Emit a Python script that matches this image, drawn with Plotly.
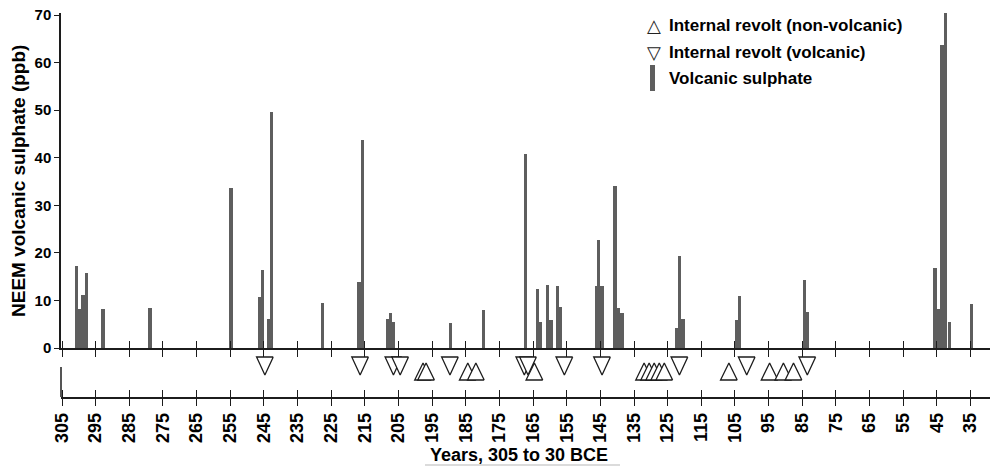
import plotly.graph_objects as go

# ---------------- data ----------------
bar_years = [300.75, 299.75, 298.75, 297.75, 292.8, 278.8, 254.8,
             246.4, 245.4, 243.7, 242.7, 227.6, 216.7, 215.7,
             208.2, 207.4, 206.4, 189.5, 179.8, 167.3,
             163.7, 162.8, 160.7, 159.7, 157.8, 156.8,
             146.2, 145.5, 144.5, 140.7, 139.7, 138.6,
             122.4, 121.4, 120.4, 104.6, 103.6, 84.4, 83.4,
             45.6, 44.6, 43.5, 42.4, 41.2, 34.7]
sulphate_ppb = [17.3, 8.1, 11.1, 15.8, 8.3, 8.5, 33.7,
                10.7, 16.5, 6.0, 49.6, 9.4, 13.8, 43.8,
                6.2, 7.4, 5.5, 5.3, 7.9, 40.7,
                12.5, 5.4, 13.3, 5.9, 13.1, 8.7,
                13.1, 22.6, 13.1, 34.0, 8.5, 7.4,
                4.2, 19.4, 6.1, 5.8, 10.9, 14.3, 7.6,
                16.8, 8.1, 63.6, 70.5, 5.5, 9.3]

revolt_volcanic_years = [244.7, 216.4, 206.5, 204.5, 189.7, 167.6, 166.5,
                         155.7, 144.5, 121.5, 101.5, 83.5]
revolt_nonvolcanic_years = [197.7, 196.8, 184.4, 182.0, 164.6,
                            132.0, 130.5, 129.0, 127.5, 126.0,
                            106.8, 94.7, 90.6, 87.6]

tick_years = list(range(305, 34, -10))
tick_labels = [str(v) for v in tick_years]
y_ticks = list(range(0, 71, 10))

# ---------------- layout geometry / style ----------------
W, H = 997, 468
ML, MR, MT, MB = 61, 7, 13, 71
PW, PH = W - ML - MR, H - MT - MB


def pxp(x):
    return (x - ML) / PW


def pyp(y):
    return (H - MB - y) / PH


FONT = "Liberation Sans, Arial, sans-serif"
BAR_COLOR = "#5e5e5e"
EDGE = "#1c1c1c"
XR = [305.3, 29.2]
Y2_RANGE = [0, 43]
HW = 2.48                      # triangle half width (years)
DOWN_TOP, DOWN_BOT = 40, 22    # y2 units (pixels)
UP_BOT, UP_TOP = 17, 34

fig = go.Figure()

fig.add_trace(go.Bar(x=bar_years, y=sulphate_ppb, width=1.0,
                     marker=dict(color=BAR_COLOR, line=dict(width=0)),
                     xaxis="x2", yaxis="y", showlegend=False,
                     hoverinfo="x+y"))

for yr in sorted(revolt_volcanic_years, reverse=True):
    fig.add_trace(go.Scatter(
        x=[yr - HW, yr + HW, yr, yr - HW],
        y=[DOWN_TOP, DOWN_TOP, DOWN_BOT, DOWN_TOP],
        mode="lines", fill="toself", fillcolor="white",
        line=dict(color=EDGE, width=1.3),
        xaxis="x", yaxis="y2", showlegend=False, hoverinfo="skip"))

for yr in sorted(revolt_nonvolcanic_years, reverse=True):
    fig.add_trace(go.Scatter(
        x=[yr - HW, yr + HW, yr, yr - HW],
        y=[UP_BOT, UP_BOT, UP_TOP, UP_BOT],
        mode="lines", fill="toself", fillcolor="white",
        line=dict(color=EDGE, width=1.3),
        xaxis="x", yaxis="y2", showlegend=False, hoverinfo="skip"))

# dummy traces so overlay axes are drawn
fig.add_trace(go.Scatter(x=[None], y=[None], xaxis="x3", yaxis="y",
                         showlegend=False, hoverinfo="skip"))
fig.add_trace(go.Scatter(x=[None], y=[None], xaxis="x4", yaxis="y2",
                         showlegend=False, hoverinfo="skip"))

y_dom_bottom = (H - MB - 348) / PH
y2_dom_top = (Y2_RANGE[1] - Y2_RANGE[0]) / PH

common_x = dict(range=XR, tickmode="array", tickvals=tick_years,
                showgrid=False, zeroline=False, fixedrange=True,
                ticklen=7, tickwidth=1.3, tickcolor=EDGE)

fig.update_layout(
    width=W, height=H,
    margin=dict(l=ML, r=MR, t=MT, b=MB, autoexpand=False),
    paper_bgcolor="white", plot_bgcolor="white",
    font=dict(family=FONT, color="black"),
    bargap=0,
    xaxis=dict(**common_x, anchor="y2", ticks="outside",
               ticktext=tick_labels, tickangle=-90,
               tickfont=dict(family=FONT, size=18, color="black", weight="bold"),
               showline=True, linecolor=EDGE, linewidth=1.5),
    xaxis4=dict(**common_x, anchor="y2", overlaying="x", ticks="inside",
                showticklabels=False, showline=False),
    xaxis2=dict(**common_x, anchor="y", ticks="outside",
                showticklabels=False, showline=True, linecolor=EDGE,
                linewidth=1.5),
    xaxis3=dict(**common_x, anchor="y", overlaying="x2", ticks="inside",
                showticklabels=False, showline=False),
    yaxis=dict(domain=[y_dom_bottom, 1], range=[0, 70.42],
               tickmode="array", tickvals=y_ticks,
               ticks="outside", ticklen=5, tickwidth=1.3, tickcolor=EDGE,
               tickfont=dict(family=FONT, size=15, color="black", weight="bold"),
               showline=True, linecolor=EDGE, linewidth=1.5,
               showgrid=False, zeroline=False, fixedrange=True),
    yaxis2=dict(domain=[0, y2_dom_top], range=Y2_RANGE, visible=False,
                fixedrange=True),
)

shapes = [
    # short left axis line of the lower strip
    dict(type="line", xref="paper", yref="paper", x0=0, x1=0,
         y0=0, y1=pyp(367), line=dict(color=EDGE, width=1.5)),
    # legend bar symbol
    dict(type="rect", xref="paper", yref="paper",
         x0=pxp(650), x1=pxp(655), y0=pyp(91), y1=pyp(65),
         fillcolor=BAR_COLOR, line=dict(width=0)),
    # faint underline below x title
    dict(type="line", xref="paper", yref="paper", x0=pxp(425), x1=pxp(620),
         y0=pyp(465), y1=pyp(465), line=dict(color="#cfcfcf", width=1.5)),
]

annotations = [
    dict(text="NEEM volcanic sulphate (ppb)", textangle=-90,
         xref="paper", yref="paper", x=pxp(18), y=pyp(181),
         xanchor="center", yanchor="middle", showarrow=False,
         font=dict(family=FONT, size=19, color="black", weight="bold")),
    dict(text="Years, 305 to 30 BCE",
         xref="paper", yref="paper", x=pxp(519), y=pyp(455),
         xanchor="center", yanchor="middle", showarrow=False,
         font=dict(family=FONT, size=18, color="black", weight="bold")),
]

legend_rows = [("\u25B3", "Internal revolt (non-volcanic)", 25),
               ("\u25BD", "Internal revolt (volcanic)", 52),
               (None, "Volcanic sulphate", 78)]
for sym, label, yy in legend_rows:
    if sym:
        annotations.append(dict(text=sym, xref="paper", yref="paper",
                                x=pxp(654), y=pyp(yy), xanchor="center",
                                yanchor="middle", showarrow=False,
                                font=dict(family="DejaVu Sans", size=18,
                                          color="#222")))
    annotations.append(dict(text=label, xref="paper", yref="paper",
                            x=pxp(667), y=pyp(yy), xanchor="left",
                            yanchor="middle", showarrow=False,
                            font=dict(family=FONT, size=17, color="black",
                                      weight="bold")))

fig.update_layout(shapes=shapes, annotations=annotations)

fig.write_html("out.html",
               config={"displayModeBar": False},
               post_script="document.body.style.margin='0';"
                           "document.body.style.overflow='hidden';")
